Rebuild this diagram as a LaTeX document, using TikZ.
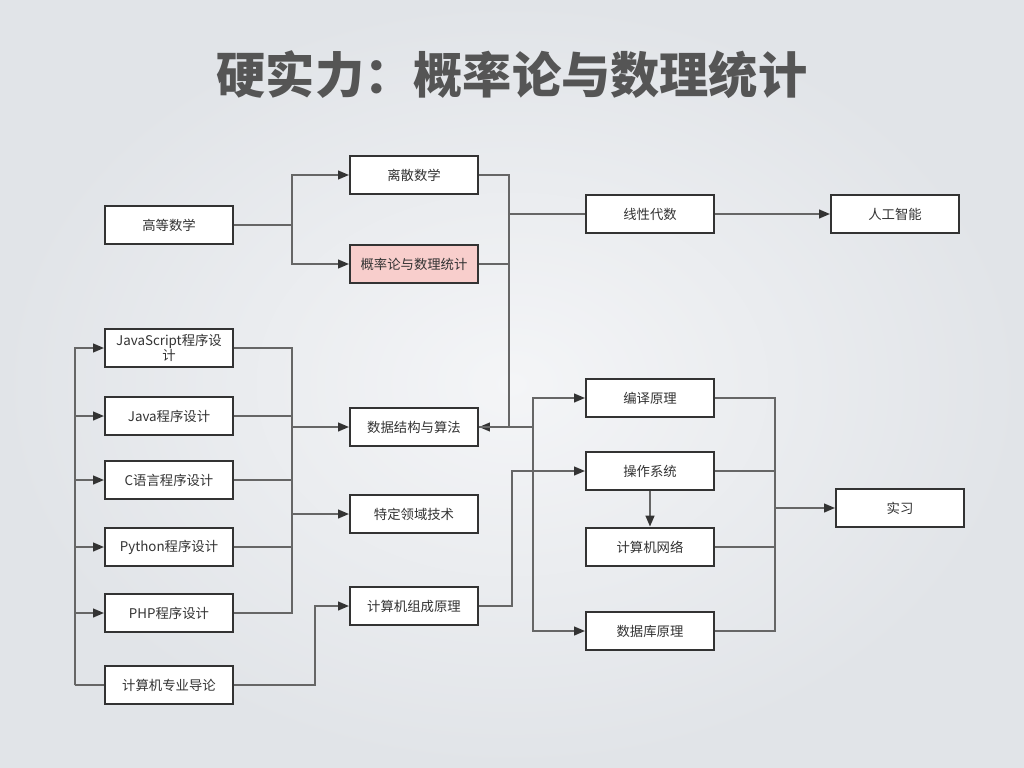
\documentclass[tikz,border=0pt]{standalone}
\usepackage{fontspec}
\setmainfont{Noto Sans CJK SC}
\usepackage{xcolor}
\usepackage{tikz}
\usetikzlibrary{arrows.meta}
\definecolor{boxline}{HTML}{333333}
\definecolor{linegray}{HTML}{666666}
\definecolor{textgray}{HTML}{333333}
\definecolor{titlegray}{HTML}{555555}
\definecolor{pinkfill}{HTML}{F8CECC}
\definecolor{bginner}{HTML}{F4F5F7}
\definecolor{bgouter}{HTML}{E1E4E8}

\begin{document}
\begin{tikzpicture}[x=0.025cm,y=-0.025cm,
  course/.style={draw=boxline, line width=1.5pt, fill=white, minimum width=3.2cm,
    minimum height=0.97cm, inner sep=1pt, align=center, text=textgray,
    font=\fontsize{9.5}{10.7}\selectfont},
  link/.style={draw=linegray, line width=1.1pt},
  arrow/.style={link, -{Triangle[length=2.7mm,width=2.2mm,color=boxline]}}]
  \useasboundingbox (0,0) rectangle (1024,768);
  \shade[inner color=bginner, outer color=bgouter] (0,0) rectangle (1024,768);
  \node[text=titlegray, font=\fontsize{35}{40}\selectfont\bfseries] (title) at (512,75) {硬实力：概率论与数理统计};

  \node[course] (gdsx) at (169,225) {高等数学};
  \node[course] (lssx) at (414,175) {离散数学};
  \node[course, fill=pinkfill] (gll) at (414,264) {概率论与数理统计};
  \node[course] (xxds) at (650,214) {线性代数};
  \node[course] (rgzn) at (895,214) {人工智能};
  \node[course] (js) at (169,348) {JavaScript程序设\\计};
  \node[course] (java) at (169,416) {Java程序设计};
  \node[course] (clang) at (169,480) {C语言程序设计};
  \node[course] (py) at (169,547) {Python程序设计};
  \node[course] (php) at (169,613) {PHP程序设计};
  \node[course] (jsdl) at (169,685) {计算机专业导论};
  \node[course] (sjjg) at (414,427) {数据结构与算法};
  \node[course] (tdly) at (414,514) {特定领域技术};
  \node[course] (zcyl) at (414,606) {计算机组成原理};
  \node[course] (byyl) at (650,398) {编译原理};
  \node[course] (czxt) at (650,471) {操作系统};
  \node[course] (jsjwl) at (650,547) {计算机网络};
  \node[course] (sjk) at (650,631) {数据库原理};
  \node[course] (sx) at (900,508) {实习};

  \coordinate (j1) at (292,225);
  \draw[link] (gdsx.east) -- (j1);
  \draw[arrow] (j1) |- (lssx.west);
  \draw[arrow] (j1) |- (gll.west);

  \coordinate (j2) at (509,214);
  \draw[link] (lssx.east) -| (j2);
  \draw[link] (gll.east) -| (j2);
  \draw[link] (j2) -- (xxds.west);
  \draw[arrow] (j2) |- (sjjg.east);
  \draw[arrow] (xxds) -- (rgzn);

  \coordinate (j3) at (533,427);
  \draw[link] (sjjg.east) -- (j3);
  \draw[arrow] (j3) |- (byyl.west);
  \draw[arrow] (j3) |- (sjk.west);

  \coordinate (j4) at (75,685);
  \draw[link] (jsdl.west) -- (j4);
  \foreach \n in {js,java,clang,py,php}
    \draw[arrow] (j4) |- (\n.west);

  \coordinate (j5) at (292,427);
  \foreach \n in {js,java,clang,py,php}
    \draw[link] (\n.east) -| (j5);
  \draw[arrow] (j5) -- (sjjg.west);
  \draw[arrow] (tdly.west -| j5) -- (tdly.west);

  \draw[arrow] (jsdl.east) -- ++(81,0) |- (zcyl.west);
  \draw[arrow] (zcyl.east) -- ++(33,0) |- (czxt.west);
  \draw[arrow] (czxt) -- (jsjwl);

  \coordinate (j6) at (775,508);
  \foreach \n in {byyl,czxt,jsjwl,sjk}
    \draw[link] (\n.east) -| (j6);
  \draw[arrow] (j6) -- (sx.west);
\end{tikzpicture}
\end{document}
